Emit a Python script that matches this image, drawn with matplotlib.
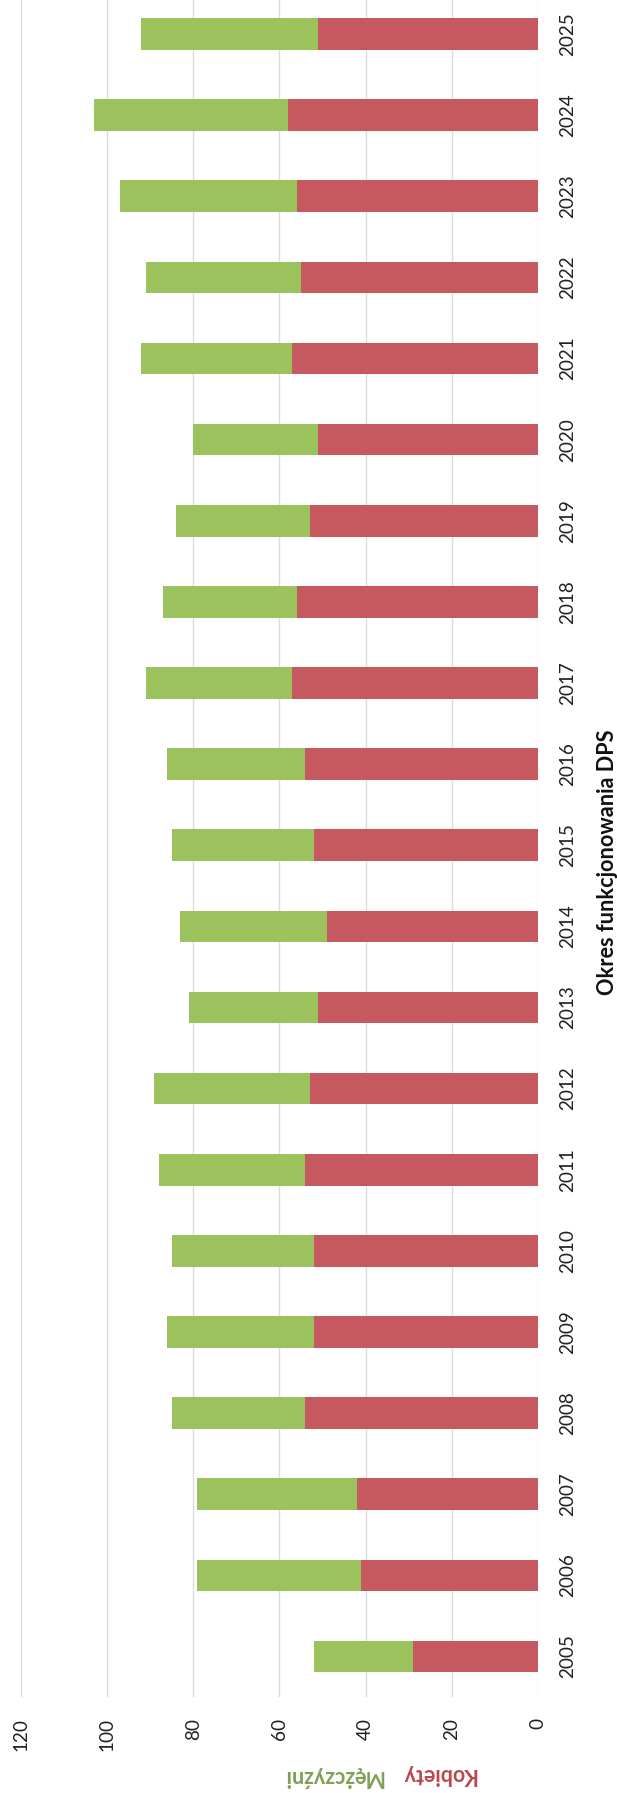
import matplotlib
matplotlib.use("Agg")
import matplotlib.pyplot as plt

years = [str(y) for y in range(2005, 2026)]
women = [29, 41, 42, 54, 52, 52, 54, 53, 51, 49, 52, 54, 57, 56, 53, 51, 57, 55, 56, 58, 51]
total = [52, 79, 79, 85, 86, 85, 88, 89, 81, 83, 85, 86, 91, 87, 84, 80, 92, 91, 97, 103, 92]
men = [t - w for t, w in zip(total, women)]
value_ticks = [0, 20, 40, 60, 80, 100, 120]

RED = "#C65960"
GREEN = "#9BC25D"
FONT = "Lato"

W, H = 617, 1793
fig = plt.figure(figsize=(W / 100, H / 100), dpi=100)
ax = fig.add_axes([20.7 / W, 96 / H, (538 - 20.7) / W, 1697 / H])

idx = list(range(len(years)))
ax.barh(idx, women, height=0.39, left=0, color=RED, zorder=3)
ax.barh(idx, men, height=0.39, left=women, color=GREEN, zorder=3)

ax.set_xlim(120, 0)
ax.set_ylim(-0.5, 20.5 - 6.5 / 81.1)
ax.set_xticks(value_ticks)
ax.set_xticklabels([str(v) for v in value_ticks], rotation=90, fontsize=13.6,
                   family=FONT, color="#222222")
ax.set_yticks(idx)
ax.set_yticklabels(years, rotation=90, va="center", ha="left", fontsize=13.6,
                   family=FONT, color="#222222")
ax.yaxis.tick_right()
ax.tick_params(axis="x", length=0, pad=15)
ax.tick_params(axis="y", length=0, pad=15)
ax.grid(axis="x", color="#DCDCDC", lw=1, zorder=0)
for s in ax.spines.values():
    s.set_visible(False)

fig.text(607 / W, 1 - 862 / H, "Okres funkcjonowania DPS", rotation=90,
         ha="center", va="center", fontsize=15.6, fontweight="bold",
         family=FONT, color="#111111")
fig.text(439 / W, 1 - 1774 / H, "Kobiety", rotation=180, ha="center",
         va="center", fontsize=15.5, fontweight="bold", family=FONT, color="#B9484D")
fig.text(333 / W, 1 - 1777 / H, "Mężczyźni", rotation=180, ha="center",
         va="center", fontsize=15.5, fontweight="bold", family=FONT, color="#7F9F53")

fig.savefig("out.png", dpi=100, facecolor="white")
